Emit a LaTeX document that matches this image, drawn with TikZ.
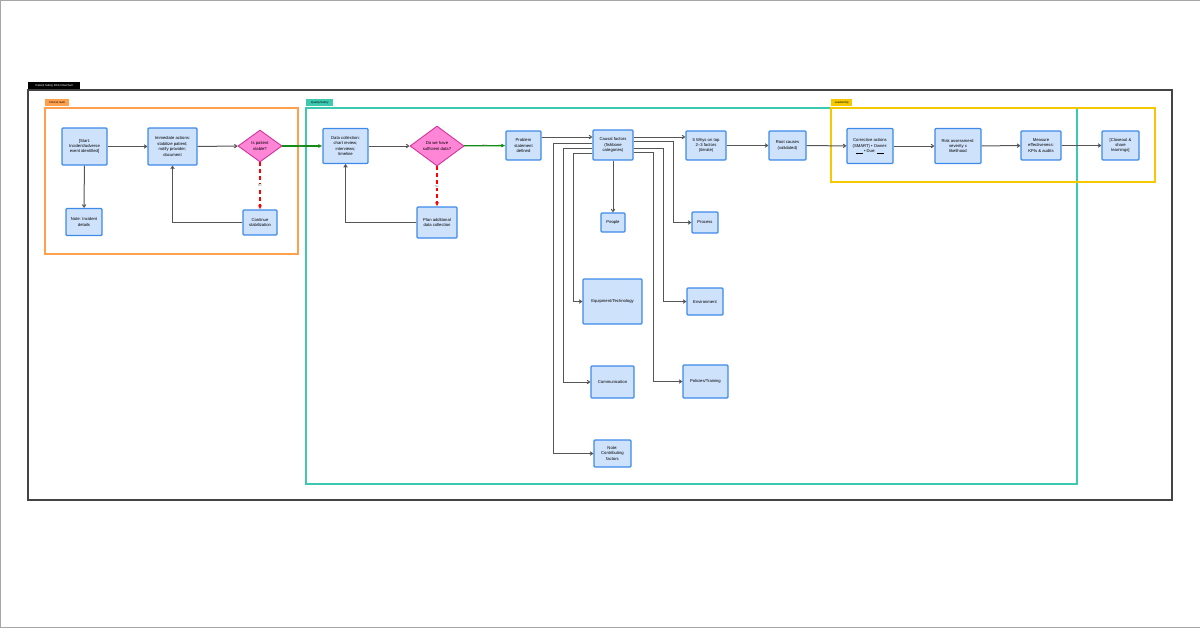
\documentclass[tikz,border=0pt]{standalone}
\usepackage{tikz}
\usepackage{fontspec}
\setmainfont{Liberation Sans}
\usetikzlibrary{arrows.meta,shapes.geometric,calc}
\definecolor{boxfill}{HTML}{CFE2FB}
\definecolor{boxline}{HTML}{3D8AE8}
\definecolor{decfill}{HTML}{FF85D6}
\definecolor{decline}{HTML}{D1359C}
\definecolor{lanec}{HTML}{FFA04D}
\definecolor{laneq}{HTML}{3CC9B0}
\definecolor{lanel}{HTML}{F5C800}
\definecolor{linec}{HTML}{555555}
\newcommand{\blank}{\rule[-0.3pt]{7pt}{0.3pt}}
\tikzset{
  task/.style={draw=boxline, fill=boxfill, line width=1.1pt, rounded corners=1pt, align=center, font=\fontsize{4.2}{5.4}\selectfont, inner sep=1pt},
  dec/.style={diamond, draw=decline, fill=decfill, line width=0.9pt, align=center, font=\fontsize{4.2}{5.4}\selectfont, inner sep=0pt, aspect=1.4},
  flow/.style={draw=linec, line width=1pt, -{Straight Barb[length=2.5pt,width=3.5pt]}},
  yes/.style={draw={rgb,255:red,20;green,140;blue,20}, line width=1.3pt, -{Latex[length=4pt,width=4pt]}},
  no/.style={draw=red, line width=1.3pt, dash pattern=on 4pt off 3pt, -{Latex[length=4pt,width=4pt]}},
  lbl/.style={font=\fontsize{3}{3.5}\selectfont, text=gray, inner sep=0.5pt},
  tag/.style={anchor=south west, font=\fontsize{2.8}{3}\selectfont, inner sep=1pt, minimum height=7pt},
}
\begin{document}
\begin{tikzpicture}[x=1pt,y=-1pt]
\useasboundingbox (0,0) rectangle (1200,627);
\draw [gray!70, line width=0.6pt] (0,0) rectangle (1200,627);

% frame and lanes
\node [tag, fill=black, text=white, minimum width=52pt] (title) at (28,89) {Patient Safety RCA Flowchart};
\draw [linec!80!black, line width=1.2pt] (28,90) rectangle (1172,500);
\draw [lanec, line width=1.2pt] (45,108) rectangle (298,254);
\node [tag, fill=lanec, minimum width=24pt] (tagC) at (45,106) {Clinical team};
\draw [laneq, line width=1.2pt] (306,108) rectangle (1077,484);
\node [tag, fill=laneq, minimum width=27pt] (tagQ) at (306,106) {Quality/Safety};
\draw [lanel, line width=1.2pt] (831,108) rectangle (1155,182);
\node [tag, fill=lanel, minimum width=21pt] (tagL) at (831,106) {Leadership};

% main row
\node [task, minimum width=45pt, minimum height=37pt] (start) at (84.5,146.5) {[Start:\\Incident/adverse\\event identified]};
\node [task, minimum width=36pt, minimum height=27pt] (note1) at (84,222) {Note: Incident\\details};
\node [task, minimum width=49pt, minimum height=37pt] (immed) at (172.5,146.5) {Immediate actions:\\stabilize patient;\\notify provider;\\document};
\node [dec, minimum width=44pt, minimum height=32pt] (stable) at (260,146) {Is patient\\stable?};
\node [task, minimum width=34pt, minimum height=25pt] (cont) at (260,222.5) {Continue\\stabilization};
\node [task, minimum width=45pt, minimum height=35pt] (datac) at (345.5,146) {Data collection:\\chart review;\\interviews;\\timeline};
\node [dec, minimum width=54pt, minimum height=40pt] (suff) at (437,146) {Do we have\\sufficient data?};
\node [task, minimum width=40pt, minimum height=31pt] (plan) at (437,222.5) {Plan additional\\data collection};
\node [task, minimum width=35pt, minimum height=29pt] (prob) at (523.5,145.5) {Problem\\statement\\defined};
\node [task, minimum width=40pt, minimum height=30pt] (causal) at (613,145) {Causal factors\\(fishbone\\categories)};
\node [task, minimum width=40pt, minimum height=29pt] (whys) at (706,145.5) {5 Whys on top\\2--3 factors\\(iterate)};
\node [task, minimum width=37pt, minimum height=29pt] (root) at (787.5,145.5) {Root causes\\(validated)};
\node [task, minimum width=46pt, minimum height=35pt] (corr) at (870,146) {Corrective actions\\(SMART) • Owner:\\\blank{} • Due: \blank};
\node [task, minimum width=46pt, minimum height=35pt] (risk) at (958,146) {Risk assessment:\\severity x\\likelihood};
\node [task, minimum width=40pt, minimum height=29pt] (meas) at (1041,145.5) {Measure\\effectiveness:\\KPIs \& audits};
\node [task, minimum width=37pt, minimum height=29pt] (close) at (1120.5,145.5) {[Closeout \&\\share\\learnings]};

% fishbone categories
\node [task, minimum width=24pt, minimum height=19pt] (people) at (613,222.5) {People};
\node [task, minimum width=26pt, minimum height=21pt] (process) at (705,222.5) {Process};
\node [task, minimum width=59pt, minimum height=45pt] (equip) at (612.5,301.5) {Equipment/Technology};
\node [task, minimum width=36pt, minimum height=27pt] (env) at (705,301.5) {Environment};
\node [task, minimum width=43pt, minimum height=32pt] (comm) at (612.5,382) {Communication};
\node [task, minimum width=45pt, minimum height=33pt] (policy) at (705.5,381.5) {Policies/Training};
\node [task, minimum width=37pt, minimum height=27pt] (note2) at (612.5,453.5) {Note:\\Contributing\\factors};

% connectors
\draw [flow] (start) -- (immed);
\draw [flow] (start) -- (note1);
\draw [flow] (immed) -- (stable);
\draw [yes] (stable) -- node [lbl, pos=0.45] {Yes} (datac);
\draw [no] (stable) -- node [lbl, fill=white] {No} (cont);
\draw [flow] (cont.west) -| (immed.south);
\draw [flow] (datac) -- (suff);
\draw [yes] (suff) -- node [lbl] {Yes} (prob);
\draw [no] (suff) -- node [lbl, fill=white] {No} (plan);
\draw [flow] (plan.west) -| (datac.south);
\draw [flow] (prob.east |- 0,137) -- (causal.west |- 0,137);
\draw [flow] (causal.east |- 0,137) -- (whys.west |- 0,137);
\draw [flow] (causal.east |- 0,141) -- (673,141) |- (process.west);
\draw [flow] (causal.east |- 0,148) -- (663,148) |- (env.west);
\draw [flow] (causal.east |- 0,152) -- (653,152) |- (policy.west);
\draw [flow] (causal) -- (people);
\draw [flow] (causal.west |- 0,143) -- (553,143) |- (note2.west);
\draw [flow] (causal.west |- 0,148) -- (563,148) |- (comm.west);
\draw [flow] (causal.west |- 0,153) -- (573,153) |- (equip.west);
\draw [flow] (whys) -- (root);
\draw [flow] (root) -- (corr);
\draw [flow] (corr) -- (risk);
\draw [flow] (risk) -- (meas);
\draw [flow] (meas) -- (close);
\end{tikzpicture}
\end{document}
